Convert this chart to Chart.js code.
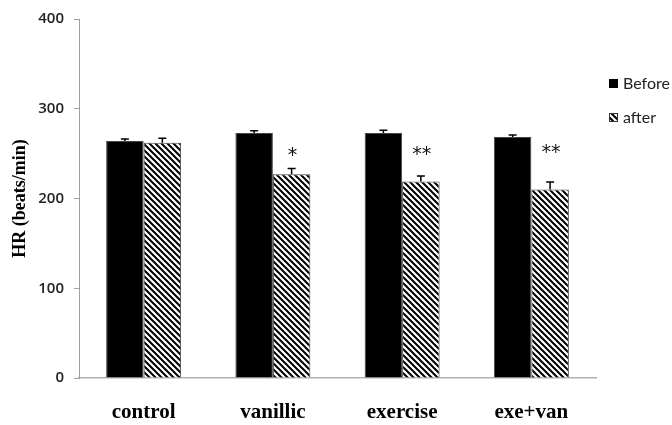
<!DOCTYPE html>
<html>
<head>
<meta charset="utf-8">
<script src="https://cdn.jsdelivr.net/npm/chart.js@4/dist/chart.umd.min.js"></script>
<style>
  html, body { margin: 0; padding: 0; background: #fff; }
  #wrap { width: 672px; height: 425px; }
</style>
</head>
<body>
<div id="wrap"><canvas id="hr"></canvas></div>
<script>
// values
const groups = ["control", "vanillic", "exercise", "exe+van"]
const before = [264, 273, 273, 268.5]
const after = [262, 227, 219, 210]
const errBefore = [2.2, 2.5, 3, 2.2]
const errAfter = [5, 6.5, 6, 8.5]
const stars = ["", "*", "**", "**"]
const starLevel = [0, 251, 252, 254]
const yTicks = [0, 100, 200, 300, 400]

// hatch for the "after" bars
function hatch() {
    const c = document.createElement("canvas")
    c.width = 6
    c.height = 6
    const g = c.getContext("2d")
    g.fillStyle = "#fff"
    g.fillRect(0, 0, 6, 6)
    g.strokeStyle = "#000"
    g.lineWidth = 2
    g.beginPath()
    g.moveTo(-1, -1); g.lineTo(7, 7)
    g.moveTo(-1, 5); g.lineTo(1, 7)
    g.moveTo(5, -1); g.lineTo(7, 1)
    g.stroke()
    return g.createPattern(c, "repeat")
}
const stripes = hatch()

const extras = {
    id: "extras",
    afterDatasetsDraw: (chart) => {
        const ctx = chart.ctx
        const y = chart.scales.y
        ctx.save()
        ctx.strokeStyle = "#000"
        ctx.lineWidth = 1.5
        const errs = [errBefore, errAfter]
        chart.data.datasets.forEach((ds, i) => {
            chart.getDatasetMeta(i).data.forEach((bar, j) => {
                const top = y.getPixelForValue(ds.data[j])
                const tip = y.getPixelForValue(ds.data[j] + errs[i][j])
                ctx.beginPath()
                ctx.moveTo(bar.x, top)
                ctx.lineTo(bar.x, tip)
                ctx.moveTo(bar.x - 4, tip)
                ctx.lineTo(bar.x + 4, tip)
                ctx.stroke()
            })
        })
        // significance marks
        ctx.fillStyle = "#111"
        ctx.font = "19px 'DejaVu Sans'"
        ctx.textAlign = "center"
        ctx.textBaseline = "middle"
        chart.getDatasetMeta(1).data.forEach((bar, j) => {
            if (stars[j] === "") return
            ctx.fillText(stars[j], bar.x + 1, y.getPixelForValue(starLevel[j]) + 3)
        })
        // legend
        ctx.font = "16px Lato"
        ctx.textAlign = "left"
        ctx.fillStyle = "#000"
        ctx.fillRect(609, 79, 9, 9)
        ctx.fillStyle = stripes
        ctx.fillRect(609, 113, 9, 9)
        ctx.strokeStyle = "#333"
        ctx.lineWidth = 1
        ctx.strokeRect(609.5, 113.5, 8, 8)
        ctx.fillStyle = "#222"
        ctx.fillText("Before", 623, 84)
        ctx.fillText("after", 623, 118)
        ctx.restore()
    }
}

new Chart(document.getElementById("hr"), {
    type: "bar",
    data: {
        labels: groups,
        datasets: [
            {
                label: "Before",
                data: before,
                backgroundColor: "#000",
                borderColor: "#444",
                borderWidth: 1
            },
            {
                label: "after",
                data: after,
                backgroundColor: stripes,
                borderColor: "#444",
                borderWidth: 1
            }
        ]
    },
    options: {
        responsive: true,
        maintainAspectRatio: false,
        animation: false,
        devicePixelRatio: 1,
        layout: { padding: { left: 0, right: 76, top: 15, bottom: 0 } },
        datasets: { bar: { barPercentage: 1, categoryPercentage: 0.58 } },
        plugins: {
            legend: { display: false },
            tooltip: { enabled: false }
        },
        scales: {
            x: {
                grid: { display: false },
                border: { display: true, color: "#b0b0b0", width: 1.5 },
                ticks: {
                    color: "#000",
                    padding: 14,
                    font: { family: "'Liberation Serif'", size: 21, weight: "bold" }
                },
                afterFit: (s) => { s.height = 47 }
            },
            y: {
                min: 0,
                max: 400,
                afterBuildTicks: (s) => { s.ticks = yTicks.map(v => ({ value: v })) },
                grid: { drawOnChartArea: false, color: "#a0a0a0", tickLength: 5 },
                border: { display: true, color: "#a0a0a0", width: 1 },
                ticks: {
                    color: "#222",
                    padding: 10,
                    font: { family: "'Open Sans'", size: 15, weight: "600" }
                },
                title: {
                    display: true,
                    text: "HR (beats/min)",
                    color: "#000",
                    padding: { top: 10, bottom: 0 },
                    font: { family: "'Liberation Serif'", size: 18, weight: "bold" }
                },
                afterFit: (s) => { s.width = 79 }
            }
        }
    },
    plugins: [extras]
})
</script>
</body>
</html>
